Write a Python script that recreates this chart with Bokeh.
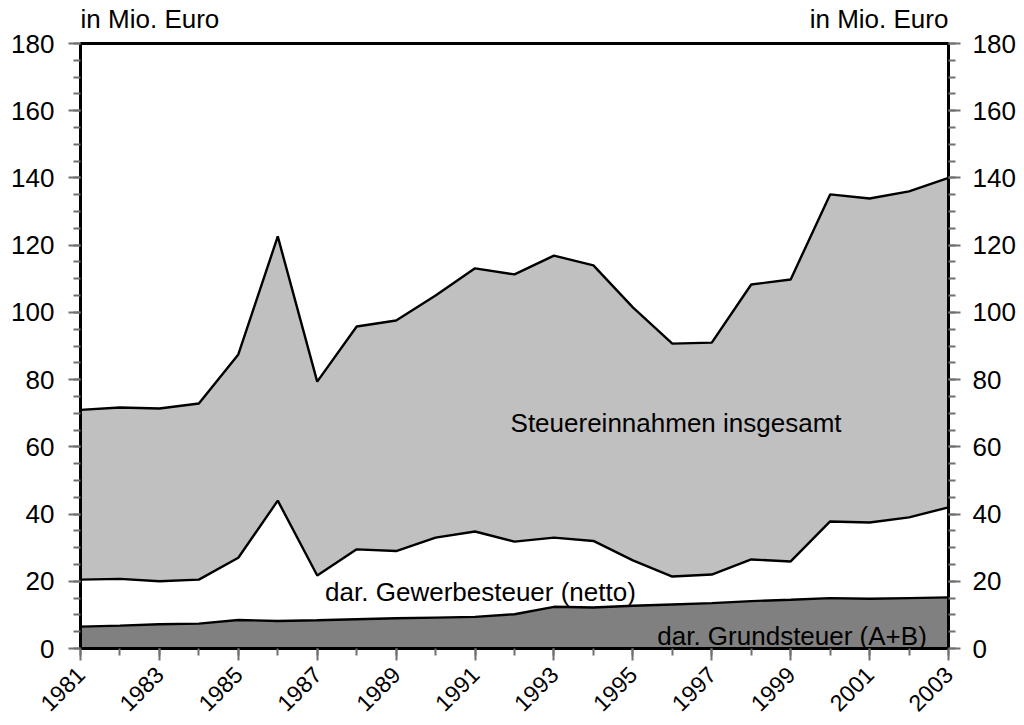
import math
from bokeh.plotting import figure
from bokeh.models import FixedTicker, LinearAxis, Label, Range1d
from bokeh.embed import file_html
from bokeh.resources import INLINE

years = list(range(1981, 2004))
total = [71.0, 71.7, 71.4, 72.9, 87.5, 122.6, 79.4, 95.8, 97.6, 105.0, 113.1, 111.3,
         116.9, 114.0, 101.5, 90.7, 91.0, 108.3, 109.8, 135.1, 133.9, 136.0, 140.0]
gewerbe = [20.5, 20.7, 20.0, 20.5, 27.0, 44.0, 21.7, 29.5, 29.0, 33.0, 34.8, 31.8,
           33.0, 32.0, 26.2, 21.4, 22.0, 26.5, 25.9, 37.8, 37.5, 39.0, 42.0]
grund = [6.5, 6.8, 7.2, 7.4, 8.5, 8.2, 8.4, 8.7, 9.0, 9.2, 9.4, 10.2,
         12.4, 12.2, 12.7, 13.1, 13.5, 14.1, 14.5, 15.0, 14.8, 15.0, 15.2]
zeros = [0] * len(years)

y_major = list(range(0, 181, 20))
y_minor = list(range(0, 181, 5))
x_major = list(range(1981, 2004, 2))
x_minor = years
unit_label = "in Mio. Euro"

FONT = "Liberation Sans"

p = figure(frame_width=868, frame_height=605, output_backend="svg", toolbar_location=None,
           x_range=Range1d(1981, 2003), y_range=Range1d(0, 180),
           min_border_left=80, min_border_top=43, min_border_right=72, min_border_bottom=60,
           y_axis_location=None, x_axis_location=None)
p.grid.visible = False
p.outline_line_color = "black"
p.outline_line_width = 3
p.background_fill_color = "white"
p.border_fill_color = "white"

p.varea(x=years, y1=zeros, y2=total, fill_color="#C0C0C0")
p.varea(x=years, y1=zeros, y2=gewerbe, fill_color="white")
p.varea(x=years, y1=zeros, y2=grund, fill_color="#808080")
p.line(years, total, line_color="black", line_width=2.4)
p.line(years, gewerbe, line_color="black", line_width=2.4)
p.line(years, grund, line_color="black", line_width=2.4)


def style(ax, size="26px"):
    ax.axis_line_color = "black"
    ax.axis_line_width = 3
    ax.major_tick_line_color = "#707070"
    ax.minor_tick_line_color = "#707070"
    ax.major_tick_line_width = 2
    ax.minor_tick_line_width = 2
    ax.major_tick_in = 0
    ax.minor_tick_in = 0
    ax.major_tick_out = 12
    ax.minor_tick_out = 7
    ax.major_label_text_font = FONT
    ax.major_label_text_font_size = size
    ax.major_label_text_color = "black"


yl = LinearAxis(ticker=FixedTicker(ticks=y_major, minor_ticks=y_minor))
style(yl)
yl.major_label_standoff = 14
yr = LinearAxis(ticker=FixedTicker(ticks=y_major, minor_ticks=y_minor))
style(yr)
yr.major_label_standoff = 12
xb = LinearAxis(ticker=FixedTicker(ticks=x_major, minor_ticks=x_minor))
style(xb, "23px")
xb.major_label_orientation = math.pi / 4
xb.major_label_standoff = 10
p.add_layout(yl, "left")
p.add_layout(yr, "right")
p.add_layout(xb, "below")

# unit labels above the frame, placed through a tick-less top axis
unit_pos = [1982.76, 2001.24]
xt = LinearAxis(ticker=FixedTicker(ticks=unit_pos, minor_ticks=[]))
xt.axis_line_color = None
xt.major_tick_line_color = None
xt.minor_tick_line_color = None
xt.major_tick_out = 0
xt.major_tick_in = 0
xt.major_label_standoff = 10
xt.major_label_text_font = FONT
xt.major_label_text_font_size = "26px"
xt.major_label_text_color = "black"
xt.major_label_overrides = {unit_pos[0]: unit_label, unit_pos[1]: unit_label}
p.add_layout(xt, "above")

lab_kw = dict(text_font=FONT, text_font_size="26px", text_color="black")
p.add_layout(Label(x=1991.9, y=67.2, text="Steuereinnahmen insgesamt", text_align="left",
                   text_baseline="alphabetic", **lab_kw))
p.add_layout(Label(x=1987.2, y=16.7, text="dar. Gewerbesteuer (netto)", text_align="left",
                   text_baseline="alphabetic", **lab_kw))
p.add_layout(Label(x=2002.45, y=3.6, text="dar. Grundsteuer (A+B)", text_align="right",
                   text_baseline="alphabetic", **lab_kw))

open("out.html", "w").write(file_html(p, INLINE))
